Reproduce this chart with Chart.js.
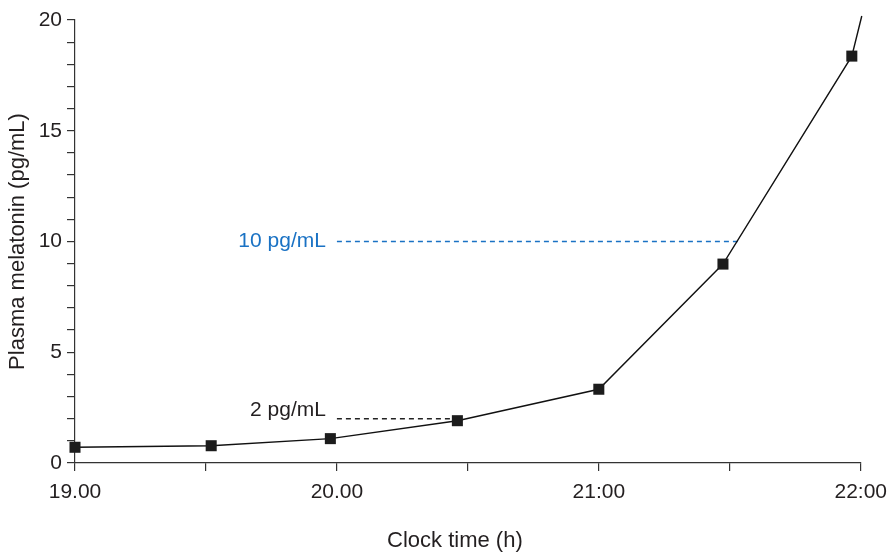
<!DOCTYPE html>
<html>
<head>
<meta charset="utf-8">
<script src="https://cdn.jsdelivr.net/npm/chart.js@4.4.1/dist/chart.umd.min.js"></script>
<style>
  html, body { margin: 0; padding: 0; background: #fff; }
  #wrap { width: 896px; height: 552px; }
</style>
</head>
<body>
<div id="wrap"><canvas id="melatoninChart" width="896" height="552"></canvas></div>
<script>
// Melatonin onset curve - clock time vs plasma melatonin
const sampleTimes = [19.0, 19.52, 19.975, 20.46, 21.0, 21.474, 21.966, 22.004];
const melatonin   = [0.71, 0.78, 1.10, 1.91, 3.33, 8.98, 18.37, 20.18];
const markerShown = [true, true, true, true, true, true, true, false];

const xTickValues = [19, 20, 21, 22];
const xTickLabels = ['19.00', '20.00', '21:00', '22:00'];
const yTickValues = [0, 5, 10, 15, 20];

// threshold reference lines
const refLevels = [2, 10];
const refStart  = [20.0, 20.0];
const refEnd    = [20.44, 21.53];
const refLabels = ['2 pg/mL', '10 pg/mL'];
const refColors = ['#222222', '#1a72c4'];
const refTextColors = ['#231f20', '#1a72c4'];
const refLabelLift = [8, 0];

const X_TITLE = 'Clock time (h)';
const FONT = '"Liberation Sans", Arial, Helvetica, sans-serif';
const INK = '#231f20';

const points = sampleTimes.map((t, i) => ({ x: t, y: melatonin[i] }));

const refDatasets = refLevels.map((lvl, i) => ({
    label: refLabels[i],
    data: [{ x: refStart[i], y: lvl }, { x: refEnd[i], y: lvl }],
    borderColor: refColors[i],
    backgroundColor: refColors[i],
    borderWidth: 1.4,
    borderDash: [5, 4],
    pointRadius: 0,
    fill: false
}));

// text labels next to the dashed lines + x axis title (sits a bit left of centre)
const refLabelPlugin = {
    id: 'refLabels',
    afterDatasetsDraw(chart) {
        const { ctx, chartArea, scales: { x, y } } = chart;
        ctx.save();
        ctx.font = '21px ' + FONT;
        ctx.textAlign = 'right';
        ctx.textBaseline = 'middle';
        refLevels.forEach((lvl, i) => {
            ctx.fillStyle = refTextColors[i];
            ctx.fillText(refLabels[i], x.getPixelForValue(refStart[i]) - 11, y.getPixelForValue(lvl) - refLabelLift[i]);
        });
        ctx.font = '22px ' + FONT;
        ctx.textAlign = 'center';
        ctx.fillStyle = INK;
        ctx.fillText(X_TITLE, (chartArea.left + chartArea.right) / 2 - 13, chart.height - 11);
        ctx.restore();
    }
};

const ctx = document.getElementById('melatoninChart').getContext('2d');
const chart = new Chart(ctx, {
    type: 'line',
    data: {
        datasets: [
            {
                label: 'Plasma melatonin',
                data: points,
                borderColor: '#111111',
                borderWidth: 1.4,
                backgroundColor: '#1c1c1c',
                pointStyle: 'rect',
                pointRadius: markerShown.map(s => s ? 7.8 : 0),
                pointBorderWidth: 0,
                tension: 0,
                clip: false,
                fill: false
            },
            ...refDatasets
        ]
    },
    options: {
        responsive: false,
        animation: false,
        events: [],
        layout: { padding: { top: 20, right: 32, left: 0, bottom: 0 } },
        scales: {
            x: {
                type: 'linear',
                min: 19,
                max: 22,
                afterFit: (scale) => { scale.height = 89; },
                grid: { drawOnChartArea: false, tickLength: 8, color: '#333', lineWidth: 1.2 },
                border: { display: true, color: '#333', width: 1.2 },
                ticks: {
                    stepSize: 0.5,
                    autoSkip: false,
                    maxRotation: 0,
                    padding: 9,
                    color: INK,
                    font: { family: FONT, size: 21 },
                    callback: (v) => {
                        const idx = xTickValues.indexOf(v);
                        return idx >= 0 ? xTickLabels[idx] : '';
                    }
                },
                title: { display: false }
            },
            y: {
                min: 0,
                max: 20,
                afterFit: (scale) => { scale.width = 75; },
                grid: { drawOnChartArea: false, tickLength: 8, color: '#333', lineWidth: 1.2 },
                border: { display: true, color: '#333', width: 1.2 },
                ticks: {
                    stepSize: 1,
                    autoSkip: false,
                    padding: 5,
                    color: INK,
                    font: { family: FONT, size: 21 },
                    callback: (v) => yTickValues.includes(v) ? String(v) : ''
                },
                title: {
                    display: true,
                    text: 'Plasma melatonin (pg/mL)',
                    color: INK,
                    font: { family: FONT, size: 22, lineHeight: 1 },
                    padding: { top: 7, bottom: 0 }
                }
            }
        },
        plugins: {
            legend: { display: false },
            tooltip: { enabled: false }
        }
    },
    plugins: [refLabelPlugin]
});
</script>
</body>
</html>
